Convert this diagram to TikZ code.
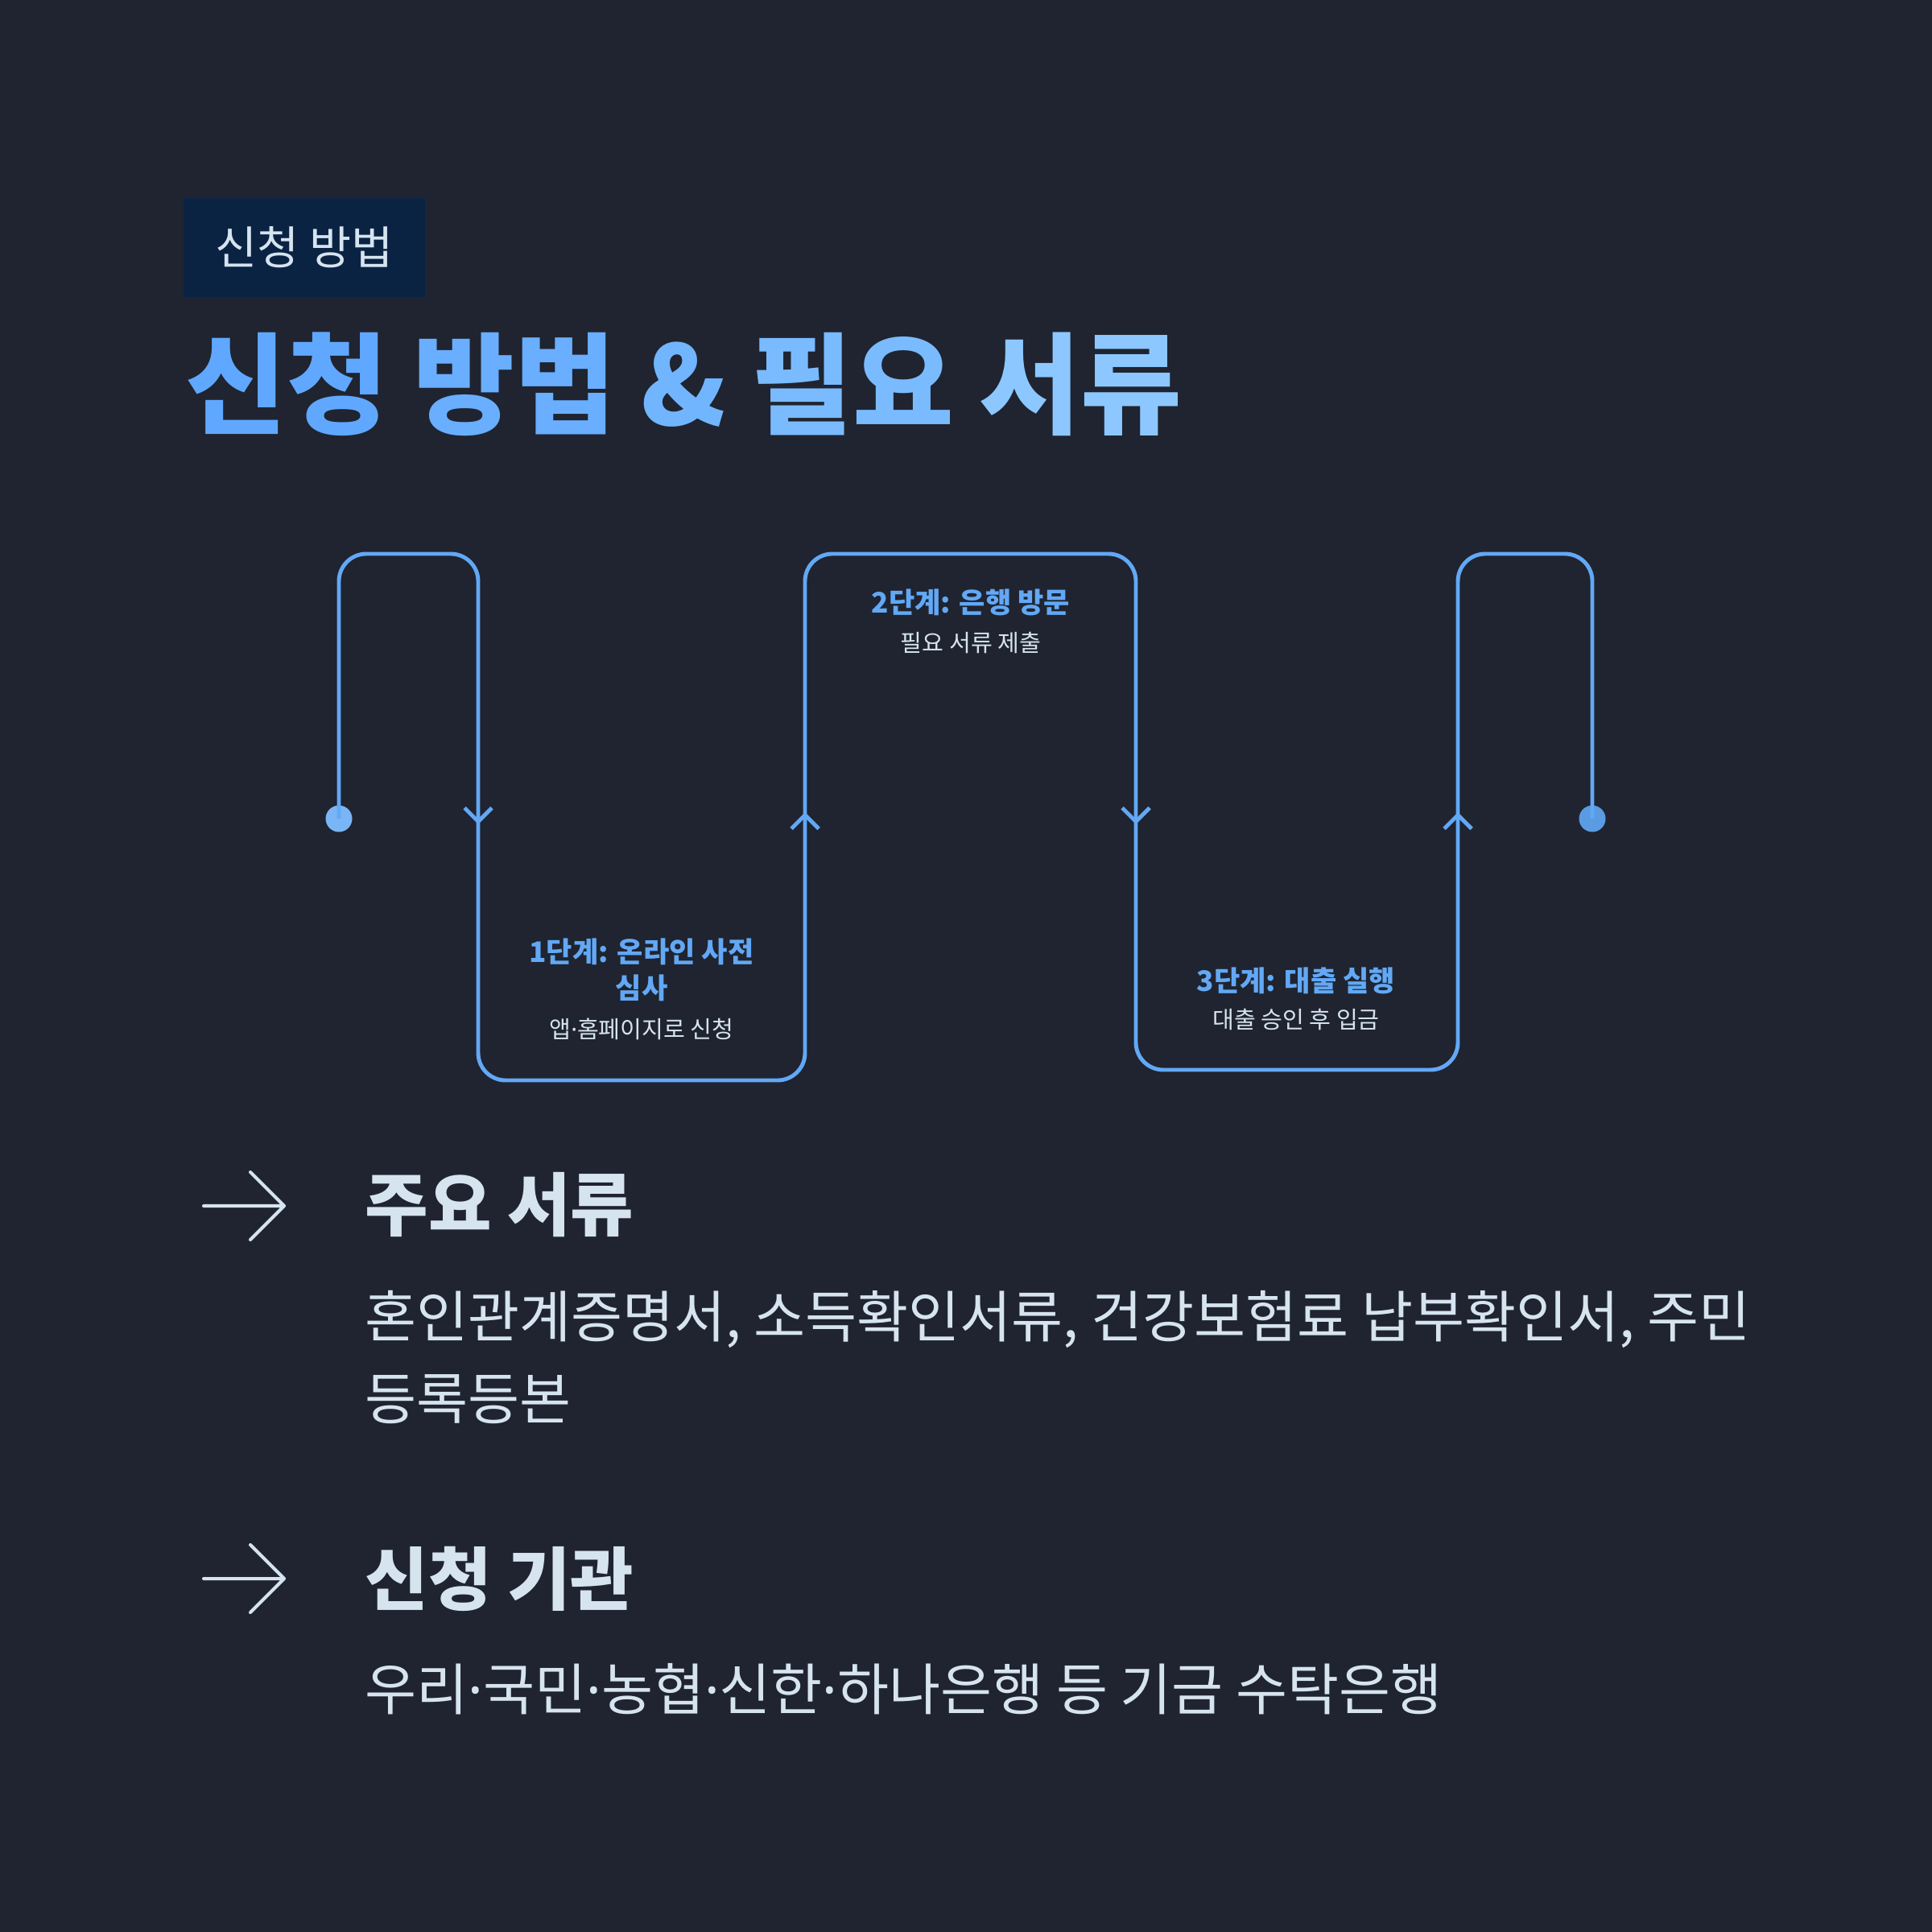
\documentclass[tikz,border=0pt]{standalone}
\usepackage{fontspec}
\setmainfont{Noto Sans CJK KR}
\newfontfamily\latinfont{Noto Sans}
\newcommand{\middot}{{\latinfont ·}}
\usepackage{xcolor}
\usepackage{tikz}
\usetikzlibrary{arrows.meta, positioning}
\definecolor{bgdark}{HTML}{1F2430}
\definecolor{tagnavy}{HTML}{0B2343}
\definecolor{flowblue}{HTML}{62A8F5}
\definecolor{titleblue}{HTML}{60A8FF}
\definecolor{titlesky}{HTML}{8CC8FF}
\definecolor{softwhite}{HTML}{D6E4F0}

\begin{document}
\begin{tikzpicture}[
    tagbox/.style={rectangle, fill=tagnavy, minimum width=3cm, minimum height=1.23cm,
        text=softwhite, font=\fontsize{16.1}{19}\selectfont},
    flow/.style={draw=flowblue, line width=1.4pt, rounded corners=3.4mm},
    chev/.style={draw=flowblue, line width=1.4pt, -{Straight Barb[length=1.7mm, width=3.4mm]}},
    flowdot/.style={circle, fill=#1, minimum size=3.3mm, inner sep=0pt},
    steptitle/.style={font=\bfseries\fontsize{10}{12.8}\selectfont, text=flowblue, align=center},
    stepnote/.style={font=\fontsize{8.3}{10}\selectfont, text=softwhite},
    icon/.style={draw=softwhite, line width=1.15pt, line cap=round, line join=round},
    headtext/.style={anchor=west, inner sep=0pt, text=softwhite, font=\bfseries\fontsize{24.3}{29}\selectfont},
    bodytext/.style={anchor=west, inner sep=0pt, text=softwhite, align=left, font=\fontsize{19.8}{29}\selectfont}
]
\fill[bgdark] (0,0) rectangle (24,-24);
\useasboundingbox (0,0) rectangle (24,-24);

% Header
\node[tagbox] (tag) at (3.78,-3.075) {신청 방법};
\node[anchor=west, inner sep=0pt, font=\bfseries\fontsize{38.9}{46}\selectfont] (title) at (2.30,-4.77)
    {{\color{titleblue}신청} {\color{titleblue!80!titlesky}방법} {\color{titleblue!60!titlesky}\&}
     {\color{titleblue!40!titlesky}필요} {\color{titlesky}서류}};

% Flow line with three steps
\node[flowdot=flowblue!85!white] (startdot) at (4.21,-10.17) {};
\node[flowdot=flowblue!92!black] (enddot) at (19.78,-10.17) {};

\draw[flow] (startdot.center) |- (5.94,-6.88) |- (10.00,-13.42) |- (14.11,-6.88)
    |- (18.11,-13.29) |- (19.78,-6.88) -- (enddot.center);

\draw[chev] (5.94,-8.5) -- (5.94,-10.24);
\draw[chev] (10.00,-12.0) -- (10.00,-10.09);
\draw[chev] (14.11,-8.5) -- (14.11,-10.24);
\draw[chev] (18.11,-12.0) -- (18.11,-10.09);

\node[steptitle] (s1) at (7.97,-12.05) {1단계: 온라인 사전\\심사};
\node[stepnote] (n1) at (7.97,-12.78) {앱\middot 홈페이지로 신청};

\node[steptitle] (s2) at (12.06,-7.48) {2단계: 은행 방문};
\node[stepnote] (n2) at (12.06,-7.99) {필요 서류 제출};

\node[steptitle] (s3) at (16.10,-12.18) {3단계: 대출 실행};
\node[stepnote] (n3) at (16.10,-12.67) {대출 승인 후 입금};

% Documents
\draw[icon] (2.53,-14.98) -- (3.53,-14.98) (3.11,-14.56) -- (3.53,-14.98) -- (3.11,-15.40);
\node[headtext] (h1) at (4.53,-14.97) {주요 서류};
\node[bodytext] (b1) at (4.53,-16.86) {혼인관계증명서, 소득확인서류, 건강보험료 납부확인서, 주민\\등록등본};

% Where to apply
\draw[icon] (2.53,-19.61) -- (3.53,-19.61) (3.11,-19.19) -- (3.53,-19.61) -- (3.11,-20.03);
\node[headtext] (h2) at (4.53,-19.61) {신청 기관};
\node[bodytext] (b2) at (4.53,-20.98) {우리\middot 국민\middot 농협\middot 신한\middot 하나은행 등 기금 수탁은행};

\end{tikzpicture}
\end{document}
